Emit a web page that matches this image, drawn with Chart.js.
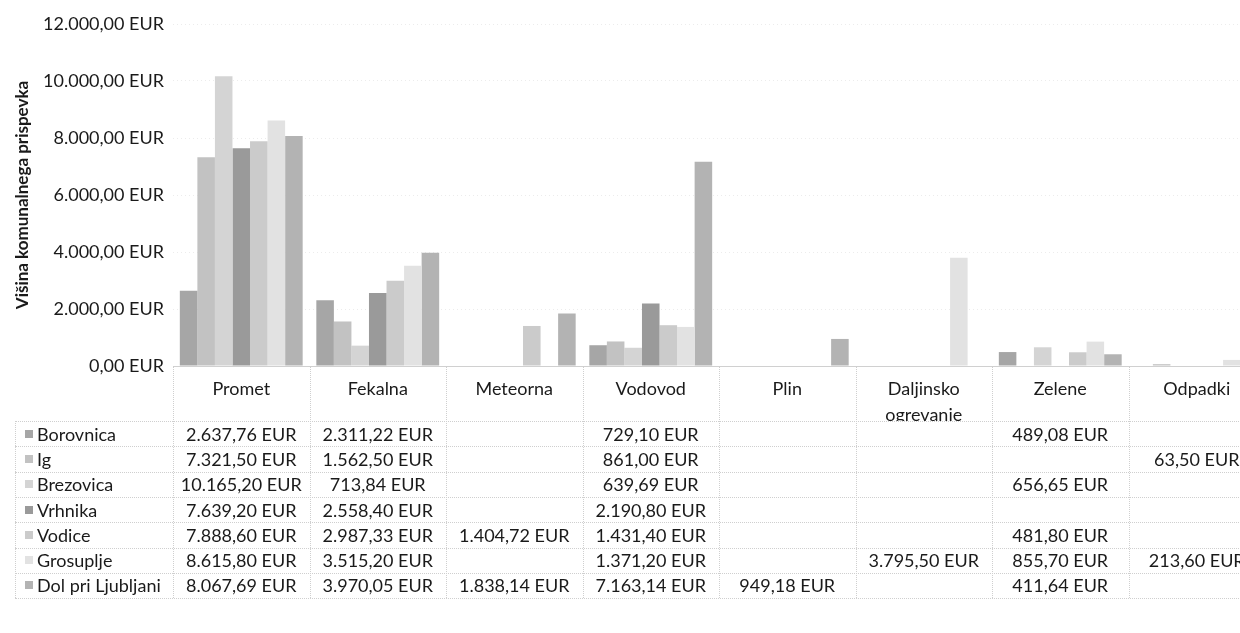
<!DOCTYPE html>
<html>
<head>
<meta charset="utf-8">
<script src="https://cdn.jsdelivr.net/npm/chart.js@4.4.1/dist/chart.umd.min.js"></script>
<style>
  html, body { margin: 0; padding: 0; background: #fff; overflow: hidden; width: 1240px; height: 633px; }
  #wrap { position: absolute; left: 0; top: 0; width: 1270px; height: 633px; }
  #c { position: absolute; left: 0; top: 0; }
  #tbl { position: absolute; left: 0; top: 0; width: 1270px; height: 633px; font-family: Lato, "Open Sans", sans-serif; font-size: 18px; color: #1a1a1a; }
  .cell { position: absolute; display: flex; align-items: center; justify-content: center; white-space: nowrap; box-sizing: border-box; }
  .hcell { position: absolute; display: flex; align-items: center; white-space: nowrap; box-sizing: border-box; }
  .key { display: inline-block; width: 8px; height: 8px; margin-right: 4px; margin-left: 10px; }
  .hline { position: absolute; height: 0; border-top: 1px dotted #cfcfcf; }
  .vline { position: absolute; width: 0; border-left: 1px dotted #cfcfcf; }
</style>
</head>
<body>
<div id="wrap">
  <canvas id="c" width="1270" height="633"></canvas>
  <div id="tbl"></div>
</div>
<script>
// ---- data ----
const categories = ['Promet', 'Fekalna', 'Meteorna', 'Vodovod', 'Plin', 'Daljinsko ogrevanje', 'Zelene', 'Odpadki'];
const seriesNames = ['Borovnica', 'Ig', 'Brezovica', 'Vrhnika', 'Vodice', 'Grosuplje', 'Dol pri Ljubljani'];
const borovnica = [2637.76, 2311.22, null, 729.10, null, null, 489.08, null];
const ig        = [7321.50, 1562.50, null, 861.00, null, null, null, 63.50];
const brezovica = [10165.20, 713.84, null, 639.69, null, null, 656.65, null];
const vrhnika   = [7639.20, 2558.40, null, 2190.80, null, null, null, null];
const vodice    = [7888.60, 2987.33, 1404.72, 1431.40, null, null, 481.80, null];
const grosuplje = [8615.80, 3515.20, null, 1371.20, null, 3795.50, 855.70, 213.60];
const dolPriLjubljani = [8067.69, 3970.05, 1838.14, 7163.14, 949.18, null, 411.64, null];
const yTicks = [0, 2000, 4000, 6000, 8000, 10000, 12000];
const yTitle = 'Višina komunalnega prispevka';

const seriesValues = [borovnica, ig, brezovica, vrhnika, vodice, grosuplje, dolPriLjubljani];
const seriesColors = ['#a6a6a6', '#c2c2c2', '#d4d4d4', '#9a9a9a', '#cbcbcb', '#e2e2e2', '#b3b3b3'];

function fmtEUR(v) {
  const parts = Math.abs(v).toFixed(2).split('.');
  const intPart = parts[0].replace(/\B(?=(\d{3})+(?!\d))/g, '.');
  return (v < 0 ? '-' : '') + intPart + ',' + parts[1] + ' EUR';
}

const FONT = 'Lato, "Open Sans", sans-serif';
const xLabels = categories.map(c => c === 'Daljinsko ogrevanje' ? ['Daljinsko', 'ogrevanje'] : c);

const chart = new Chart(document.getElementById('c'), {
  type: 'bar',
  data: {
    labels: xLabels,
    datasets: seriesNames.map((n, i) => ({
      label: n,
      data: seriesValues[i],
      backgroundColor: seriesColors[i],
      borderWidth: 0,
      categoryPercentage: 0.9,
      barPercentage: 1.0
    }))
  },
  options: {
    responsive: false,
    animation: false,
    devicePixelRatio: 1,
    layout: { padding: { top: 24, right: 5, bottom: 212, left: 0 } },
    plugins: { legend: { display: false }, tooltip: { enabled: false } },
    scales: {
      x: {
        grid: { display: false },
        border: { display: true, color: '#d0d0d0', dash: [1, 2] },
        ticks: { color: '#1a1a1a', font: { family: FONT, size: 18, lineHeight: 1.4 }, maxRotation: 0, autoSkip: false, padding: 3 },
        afterFit: s => { s.height = 55; }
      },
      y: {
        min: 0, max: 12000,
        afterBuildTicks: s => { s.ticks = yTicks.map(v => ({ value: v })); },
        ticks: { color: '#1a1a1a', font: { family: FONT, size: 18 }, padding: 9, callback: v => fmtEUR(v) },
        grid: { color: '#ececec', drawTicks: false },
        border: { display: false, dash: [1, 3] },
        title: { display: true, text: yTitle, color: '#1a1a1a', font: { family: FONT, size: 17, weight: 'bold' }, padding: { top: 12, bottom: 0 } },
        afterFit: s => { s.width = 173; }
      }
    }
  }
});

// ---- data table below the chart ----
(function buildTable() {
  const tbl = document.getElementById('tbl');
  const xs = chart.scales.x;
  const area = chart.chartArea;
  const n = categories.length;
  const colW = (area.right - area.left) / n;
  const rowTop = 421, rowH = 25.3;
  const tableBottom = rowTop + rowH * seriesNames.length;
  const headerLeft = 15;

  for (let i = 0; i <= n; i++) {
    const x = Math.round(area.left + i * colW);
    const v = document.createElement('div');
    v.className = 'vline';
    v.style.left = x + 'px';
    v.style.top = area.bottom + 'px';
    v.style.height = (tableBottom - area.bottom) + 'px';
    tbl.appendChild(v);
  }
  const vl = document.createElement('div');
  vl.className = 'vline';
  vl.style.left = headerLeft + 'px';
  vl.style.top = rowTop + 'px';
  vl.style.height = (tableBottom - rowTop) + 'px';
  tbl.appendChild(vl);

  for (let r = 0; r <= seriesNames.length; r++) {
    const h = document.createElement('div');
    h.className = 'hline';
    h.style.left = headerLeft + 'px';
    h.style.top = Math.round(rowTop + r * rowH) + 'px';
    h.style.width = (area.right - headerLeft) + 'px';
    tbl.appendChild(h);
  }

  seriesNames.forEach((name, r) => {
    const top = rowTop + r * rowH;
    const hc = document.createElement('div');
    hc.className = 'hcell';
    hc.style.left = headerLeft + 'px';
    hc.style.top = top + 'px';
    hc.style.height = rowH + 'px';
    hc.style.width = (area.left - headerLeft) + 'px';
    const key = document.createElement('span');
    key.className = 'key';
    key.style.background = seriesColors[r];
    hc.appendChild(key);
    hc.appendChild(document.createTextNode(name));
    tbl.appendChild(hc);

    seriesValues[r].forEach((v, i) => {
      if (v === null) return;
      const c = document.createElement('div');
      c.className = 'cell';
      const cx = xs.getPixelForValue(i);
      c.style.left = (cx - colW / 2) + 'px';
      c.style.width = colW + 'px';
      c.style.top = top + 'px';
      c.style.height = rowH + 'px';
      c.textContent = fmtEUR(v);
      tbl.appendChild(c);
    });
  });
})();
</script>
</body>
</html>
